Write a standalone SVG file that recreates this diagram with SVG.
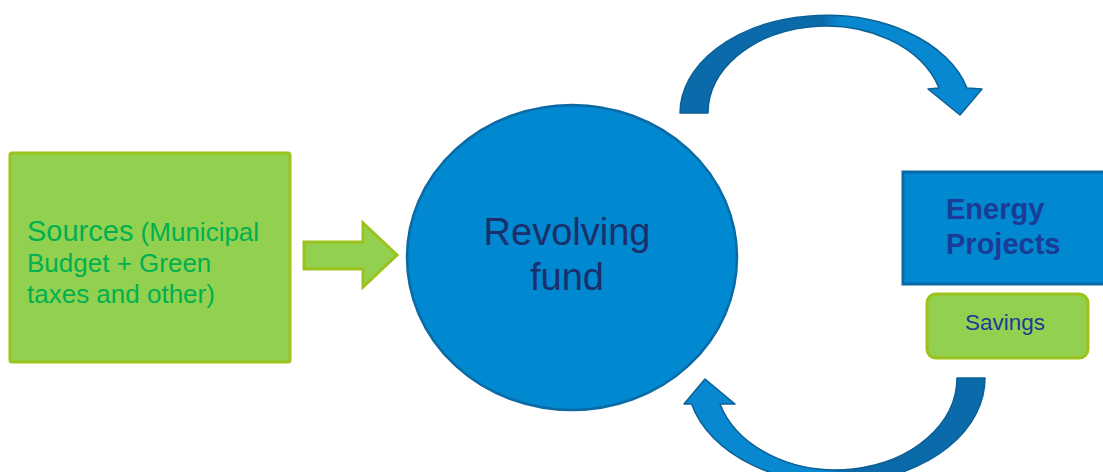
<svg xmlns="http://www.w3.org/2000/svg" width="1103" height="472" viewBox="0 0 1103 472">
  <defs>
    <style>
      .green { fill: #92D050; stroke: #9CC21E; stroke-width: 3; }
      .blue { fill: #0088D0; stroke: #0A69A4; stroke-width: 3; }
      .curve { stroke: #0B6096; stroke-width: 1.5; stroke-linejoin: round; }
      .sans { font-family: "Liberation Sans", Arial, sans-serif; }
      .src { fill: #00B050; font-size: 26px; }
      .navy { fill: #1B2F6B; }
      .proj { fill: #1A3C96; font-weight: bold; font-size: 29px; }
    </style>
    <!-- back of the upper curve is shaded darker on its rising side -->
    <linearGradient id="topShade" gradientUnits="userSpaceOnUse" x1="680" y1="0" x2="982" y2="0">
      <stop offset="0" stop-color="#0A6AAA"/>
      <stop offset="0.47" stop-color="#0A6AAA"/>
      <stop offset="0.53" stop-color="#0888D0"/>
      <stop offset="1" stop-color="#0888D0"/>
    </linearGradient>
    <linearGradient id="bottomShade" gradientUnits="userSpaceOnUse" x1="684" y1="0" x2="985" y2="0">
      <stop offset="0" stop-color="#0888D0"/>
      <stop offset="0.47" stop-color="#0888D0"/>
      <stop offset="0.53" stop-color="#0A6AAA"/>
      <stop offset="1" stop-color="#0A6AAA"/>
    </linearGradient>
  </defs>

  <rect width="1103" height="472" fill="#FFFFFF"/>

  <!-- flow arrows -->
  <g id="connectors">
    <polygon id="sources-to-fund" class="green" stroke-width="2.5"
             points="304,242 363,242 363,223 397,255 363,287 363,269 304,269"/>
    <path id="fund-to-projects" class="curve" fill="url(#topShade)"
          d="M 680,113 A 146 98 0 0 1 967,88 L 982,89 L 960,115 L 928,89 L 939,88 A 118 87 0 0 0 708,113 Z"/>
    <path id="savings-to-fund" class="curve" fill="url(#bottomShade)"
          d="M 985,378 A 149 105 0 0 1 691.6,404 L 684,404 L 705,379 L 735,404 L 720,404 A 121 92 0 0 0 957,378 Z"/>
  </g>

  <g id="sources">
    <rect class="green" x="10" y="153" width="280" height="209" rx="2"/>
    <text class="sans src" x="27" y="241"><tspan font-size="29">Sources</tspan> (Municipal</text>
    <text class="sans src" x="27" y="272">Budget + Green</text>
    <text class="sans src" x="27" y="303">taxes and other)</text>
  </g>

  <g id="revolving-fund">
    <ellipse cx="572" cy="257.5" rx="165" ry="152.5" fill="#0088D0" stroke="#0A6AA3" stroke-width="2.5"/>
    <text class="sans navy" x="567" y="245" font-size="38" text-anchor="middle">Revolving</text>
    <text class="sans navy" x="567" y="290" font-size="38" text-anchor="middle">fund</text>
  </g>

  <g id="energy-projects">
    <rect class="blue" x="903" y="172" width="230" height="112"/>
    <text class="sans proj" x="946" y="219">Energy</text>
    <text class="sans proj" x="946" y="254">Projects</text>
  </g>

  <g id="savings">
    <rect class="green" x="927" y="294" width="161" height="64" rx="9"/>
    <text class="sans" x="1005" y="330" font-size="22.5" fill="#1A3C96" text-anchor="middle">Savings</text>
  </g>
</svg>
